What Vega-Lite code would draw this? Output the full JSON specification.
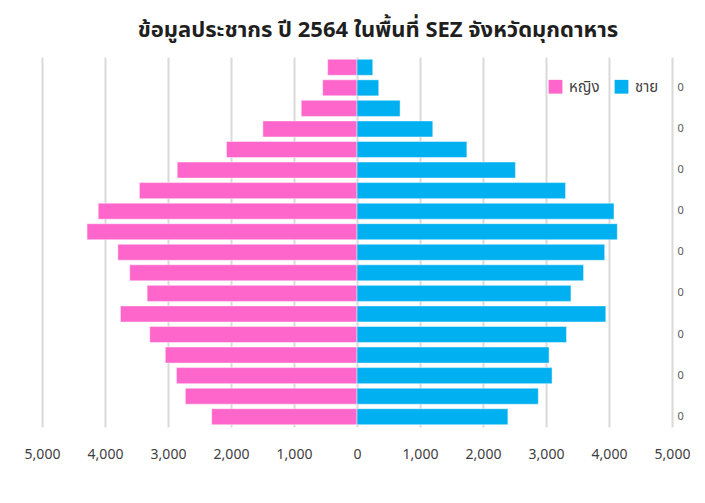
{
  "$schema": "https://vega.github.io/schema/vega-lite/v6.json",
  "width": 630,
  "height": 370,
  "autosize": {"type": "none"},
  "padding": {"left": 42, "top": 57, "right": 33, "bottom": 76},
  "background": "white",
  "title": {
    "text": "ข้อมูลประชากร ปี 2564 ในพื้นที่ SEZ จังหวัดมุกดาหาร",
    "fontSize": 22,
    "fontWeight": "bold",
    "font": "Tahoma, 'Noto Sans Thai', 'Noto Sans', sans-serif",
    "color": "#1f1f1f",
    "anchor": "middle",
    "dx": 21,
    "offset": 15
  },
  "data": {
    "values": [
      {"age": "85+", "sex": "หญิง", "population": 466},
      {"age": "85+", "sex": "ชาย", "population": 250},
      {"age": "80-84", "sex": "หญิง", "population": 545},
      {"age": "80-84", "sex": "ชาย", "population": 345},
      {"age": "75-79", "sex": "หญิง", "population": 885},
      {"age": "75-79", "sex": "ชาย", "population": 684},
      {"age": "70-74", "sex": "หญิง", "population": 1494},
      {"age": "70-74", "sex": "ชาย", "population": 1203},
      {"age": "65-69", "sex": "หญิง", "population": 2072},
      {"age": "65-69", "sex": "ชาย", "population": 1744},
      {"age": "60-64", "sex": "หญิง", "population": 2854},
      {"age": "60-64", "sex": "ชาย", "population": 2515},
      {"age": "55-59", "sex": "หญิง", "population": 3454},
      {"age": "55-59", "sex": "ชาย", "population": 3310},
      {"age": "50-54", "sex": "หญิง", "population": 4108},
      {"age": "50-54", "sex": "ชาย", "population": 4079},
      {"age": "45-49", "sex": "หญิง", "population": 4285},
      {"age": "45-49", "sex": "ชาย", "population": 4132},
      {"age": "40-44", "sex": "หญิง", "population": 3796},
      {"age": "40-44", "sex": "ชาย", "population": 3932},
      {"age": "35-39", "sex": "หญิง", "population": 3608},
      {"age": "35-39", "sex": "ชาย", "population": 3596},
      {"age": "30-34", "sex": "หญิง", "population": 3331},
      {"age": "30-34", "sex": "ชาย", "population": 3396},
      {"age": "25-29", "sex": "หญิง", "population": 3755},
      {"age": "25-29", "sex": "ชาย", "population": 3949},
      {"age": "20-24", "sex": "หญิง", "population": 3290},
      {"age": "20-24", "sex": "ชาย", "population": 3325},
      {"age": "15-19", "sex": "หญิง", "population": 3043},
      {"age": "15-19", "sex": "ชาย", "population": 3049},
      {"age": "10-14", "sex": "หญิง", "population": 2866},
      {"age": "10-14", "sex": "ชาย", "population": 3096},
      {"age": "5-9", "sex": "หญิง", "population": 2725},
      {"age": "5-9", "sex": "ชาย", "population": 2878},
      {"age": "0-4", "sex": "หญิง", "population": 2307},
      {"age": "0-4", "sex": "ชาย", "population": 2395}
    ]
  },
  "transform": [
    {"calculate": "datum.sex === 'หญิง' ? -datum.population : datum.population", "as": "signed"}
  ],
  "mark": {"type": "bar", "stroke": "white", "strokeOpacity": 0.45, "strokeWidth": 1},
  "encoding": {
    "y": {
      "field": "age",
      "type": "nominal",
      "sort": ["85+", "80-84", "75-79", "70-74", "65-69", "60-64", "55-59", "50-54", "45-49", "40-44", "35-39", "30-34", "25-29", "20-24", "15-19", "10-14", "5-9", "0-4"],
      "scale": {"paddingInner": 0.22, "paddingOuter": 0.11},
      "axis": {
        "orient": "right",
        "values": ["80-84", "70-74", "60-64", "50-54", "40-44", "30-34", "20-24", "10-14", "0-4"],
        "labelExpr": "'0'",
        "domain": false,
        "ticks": false,
        "grid": false,
        "title": null,
        "labelFontSize": 11,
        "labelColor": "#595959",
        "labelFont": "Tahoma, 'Noto Sans', sans-serif",
        "labelPadding": 5
      }
    },
    "x": {
      "field": "signed",
      "type": "quantitative",
      "scale": {"domain": [-5000, 5000], "nice": false, "zero": true},
      "axis": {
        "values": [-5000, -4000, -3000, -2000, -1000, 0, 1000, 2000, 3000, 4000, 5000],
        "labelExpr": "format(abs(datum.value), ',')",
        "labelFlush": false,
        "labelOverlap": false,
        "grid": true,
        "gridColor": "#d9d9d9",
        "gridWidth": 2,
        "domain": false,
        "ticks": false,
        "title": null,
        "labelFontSize": 14,
        "labelColor": "#404040",
        "labelFont": "Tahoma, 'Noto Sans', sans-serif",
        "labelPadding": 20
      }
    },
    "color": {
      "field": "sex",
      "type": "nominal",
      "scale": {"domain": ["หญิง", "ชาย"], "range": ["#FF66CC", "#00B0F0"]},
      "legend": {
        "orient": "none",
        "legendX": 506,
        "legendY": 22,
        "direction": "horizontal",
        "title": null,
        "symbolType": "square",
        "symbolSize": 190,
        "symbolStrokeWidth": 0,
        "labelFontSize": 15,
        "labelColor": "#404040",
        "labelFont": "Tahoma, 'Noto Sans Thai', 'Noto Sans', sans-serif",
        "columnPadding": 14,
        "labelOffset": 6
      }
    }
  },
  "config": {"view": {"stroke": null}}
}
